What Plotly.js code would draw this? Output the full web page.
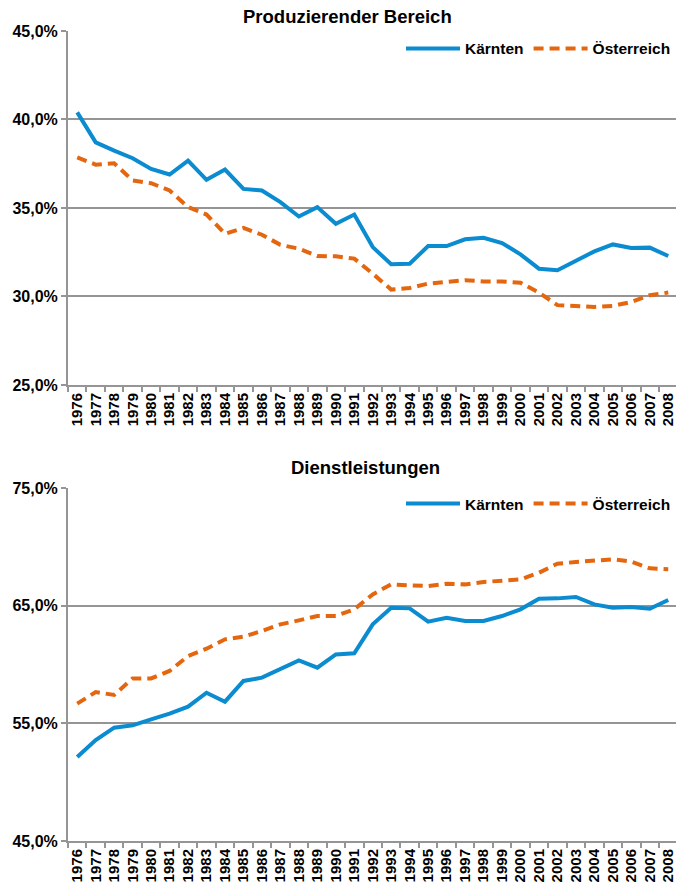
<!DOCTYPE html>
<html>
<head>
<meta charset="utf-8">
<script src="https://cdn.plot.ly/plotly-3.0.1.min.js"></script>
<style>html,body{margin:0;padding:0;background:#fff;}#chart{width:676px;height:888px;}</style>
</head>
<body>
<div id="chart"></div>
<script>
const years = ["1976","1977","1978","1979","1980","1981","1982","1983","1984","1985","1986","1987","1988","1989","1990","1991","1992","1993","1994","1995","1996","1997","1998","1999","2000","2001","2002","2003","2004","2005","2006","2007","2008"];

const prodKaernten = [40.40,38.71,38.24,37.81,37.21,36.89,37.68,36.59,37.17,36.08,35.99,35.33,34.52,35.05,34.11,34.63,32.79,31.82,31.85,32.85,32.85,33.23,33.32,33.02,32.38,31.57,31.48,31.99,32.55,32.94,32.74,32.76,32.29];
const prodOesterreich = [37.86,37.45,37.53,36.55,36.40,35.99,35.05,34.63,33.54,33.87,33.49,32.92,32.70,32.29,32.27,32.14,31.29,30.39,30.48,30.73,30.82,30.92,30.85,30.85,30.78,30.22,29.51,29.47,29.41,29.47,29.69,30.07,30.22];

const dienstKaernten = [52.14,53.58,54.63,54.83,55.34,55.82,56.42,57.60,56.84,58.60,58.88,59.64,60.35,59.73,60.86,60.95,63.41,64.83,64.77,63.64,63.98,63.70,63.70,64.12,64.69,65.59,65.62,65.74,65.11,64.83,64.88,64.74,65.48];
const dienstOesterreich = [56.67,57.66,57.41,58.82,58.82,59.45,60.72,61.34,62.14,62.36,62.85,63.41,63.75,64.12,64.12,64.69,65.96,66.81,66.73,66.67,66.87,66.81,67.01,67.10,67.24,67.80,68.57,68.71,68.80,68.94,68.74,68.17,68.09];

const seriesNames = ["Kärnten", "Österreich"];
const chartTitles = ["Produzierender Bereich", "Dienstleistungen"];

const BLUE = "#0B8BD0";
const ORANGE = "#E4660E";
const GRID = "#959595";
const FONT = "Arial, 'Liberation Sans', sans-serif";

const traces = [
  {x: years, y: prodKaernten, name: seriesNames[0], type: "scatter", mode: "lines",
   line: {color: BLUE, width: 4}, xaxis: "x", yaxis: "y", legend: "legend"},
  {x: years, y: prodOesterreich, name: seriesNames[1], type: "scatter", mode: "lines",
   line: {color: ORANGE, width: 4, dash: "10px,6px"}, xaxis: "x", yaxis: "y", legend: "legend"},
  {x: years, y: dienstKaernten, name: seriesNames[0], type: "scatter", mode: "lines",
   line: {color: BLUE, width: 4}, xaxis: "x2", yaxis: "y2", legend: "legend2"},
  {x: years, y: dienstOesterreich, name: seriesNames[1], type: "scatter", mode: "lines",
   line: {color: ORANGE, width: 4, dash: "10px,6px"}, xaxis: "x2", yaxis: "y2", legend: "legend2"}
];

function xAxis(anchor) {
  return {
    type: "category", anchor: anchor, range: [-0.5, 32.42],
    tickmode: "array", tickvals: years, ticktext: years,
    tickangle: -90, tickson: "boundaries", ticks: "outside", ticklen: 5, tickwidth: 2, tickcolor: GRID,
    showline: true, linecolor: GRID, linewidth: 2, showgrid: false, zeroline: false,
    tickfont: {family: FONT, size: 15, color: "#000", weight: "bold"},
    fixedrange: true
  };
}
function yAxis(anchor, domain, range, dtick) {
  return {
    anchor: anchor, domain: domain, range: range, dtick: dtick, tick0: range[0],
    tickformat: ".1f", ticksuffix: "%",
    ticks: "outside", ticklen: 5, tickwidth: 2, tickcolor: GRID,
    showline: true, linecolor: GRID, linewidth: 2,
    showgrid: true, gridcolor: GRID, gridwidth: 2, zeroline: false,
    tickfont: {family: FONT, size: 16, color: "#000", weight: "bold"},
    fixedrange: true
  };
}

const legendBase = {
  orientation: "h", xanchor: "right", x: 1.0, yanchor: "middle",
  font: {family: FONT, size: 15.5, color: "#000", weight: "bold"},
  bgcolor: "rgba(0,0,0,0)", itemwidth: 54, tracegroupgap: 0
};

const layout = {
  width: 676, height: 888,
  margin: {l: 68, r: 0, t: 31, b: 47},
  paper_bgcolor: "#fff", plot_bgcolor: "#fff",
  separators: ",.",
  showlegend: true,
  xaxis: xAxis("y"),
  yaxis: yAxis("x", [0.563, 1], [25, 45], 5),
  xaxis2: xAxis("y2"),
  yaxis2: yAxis("x2", [0, 0.4358], [45, 75], 10),
  legend: Object.assign({}, legendBase, {y: 0.978}),
  legend2: Object.assign({}, legendBase, {y: 0.416}),
  annotations: [
    {text: chartTitles[0], xref: "paper", yref: "paper", x: 0.4605, y: 1.0185, xanchor: "center", yanchor: "middle",
     showarrow: false, font: {family: FONT, size: 18.5, color: "#000", weight: "bold"}},
    {text: chartTitles[1], xref: "paper", yref: "paper", x: 0.4885, y: 0.4617, xanchor: "center", yanchor: "middle",
     showarrow: false, font: {family: FONT, size: 18.5, color: "#000", weight: "bold"}}
  ]
};

Plotly.newPlot("chart", traces, layout, {displayModeBar: false, staticPlot: true});
</script>
</body>
</html>
